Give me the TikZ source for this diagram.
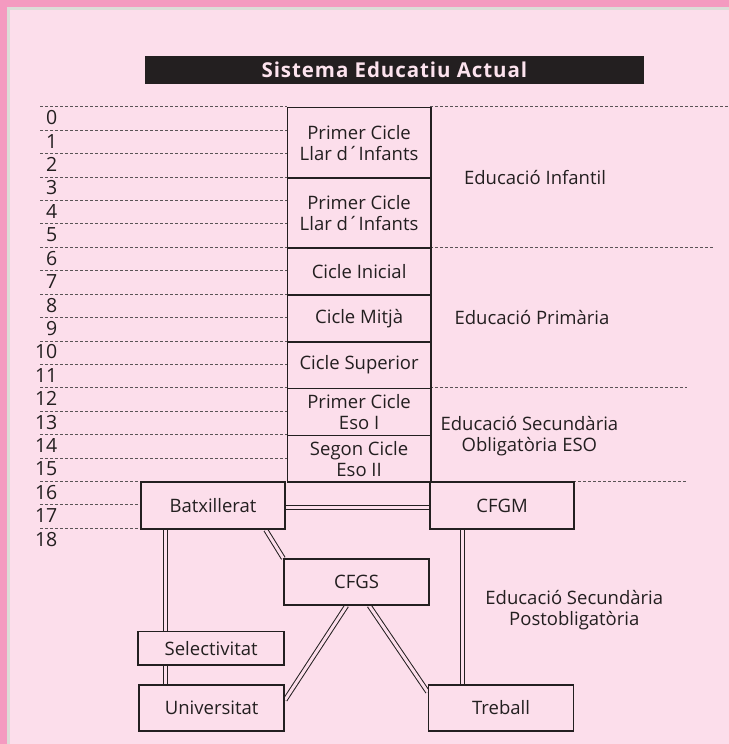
\documentclass[tikz,border=0pt]{standalone}
\usepackage{fontspec}
\setmainfont{Open Sans}
\newfontfamily\titlefont[LetterSpace=4.5]{Open Sans}
\definecolor{outerpink}{HTML}{F49AC0}
\definecolor{edgegray}{HTML}{DCDCD8}
\definecolor{bgpink}{HTML}{FCDEEB}
\definecolor{ink}{HTML}{231F20}
\definecolor{titletxt}{HTML}{FCE3EE}
\definecolor{dashgray}{HTML}{5A5456}
\pgfdeclarelayer{back}
\pgfdeclarelayer{conn}
\pgfsetlayers{back,conn,main}
\tikzset{
  box/.style={draw=ink, line width=1.7bp, fill=bgpink, inner sep=0pt, anchor=north west, align=center},
  dbl/.style={draw=ink, line width=1bp, double=bgpink, double distance=3bp},
  guide/.style={draw=dashgray, line width=0.8bp, dash pattern=on 3bp off 2bp},
  lbl/.style={align=center, inner sep=0pt}
}
\begin{document}
\begin{tikzpicture}[x=1bp, y=-1bp, font=\fontsize{18.5bp}{21bp}\selectfont, text=ink]
\useasboundingbox (0,0) rectangle (729,744);
\begin{pgfonlayer}{back}
  \fill[outerpink] (0,0) rectangle (729,744);
  \fill[edgegray] (7.3,7.3) rectangle (729,744);
  \fill[bgpink] (10,10) rectangle (729,744);
\end{pgfonlayer}

% title
\node[fill=ink, minimum width=498.3bp, minimum height=27.5bp, anchor=north west, inner sep=0pt, text=titletxt,
  font=\fontsize{20.5bp}{22bp}\titlefont\bfseries] (title) at (145,56) {Sistema Educatiu Actual};

% age guide lines
\foreach \k in {0,...,15} {
  \draw[guide] (40,{106.7+23.42*\k}) -- (286.5,{106.7+23.42*\k});
}
\foreach \k in {16,17,18} {
  \draw[guide] (40,{106.7+23.42*\k}) -- (140,{106.7+23.42*\k});
}
\draw[guide] (430,106.7) -- (729,106.7);
\draw[guide] (430,247.22) -- (713,247.22);
\draw[guide] (430,387.74) -- (686.7,387.74);
\draw[guide] (573.3,481.42) -- (686.7,481.42);

% age labels
\foreach \k in {0,...,18} {
  \node[anchor=east, inner sep=0pt, font=\fontsize{19.5bp}{21bp}\selectfont] (age\k) at (57.5,{106.7+23.42*\k+11}) {\k};
}

% stage boxes
\node[box, minimum width=143.5bp, minimum height=70.26bp] (llar1) at (286.5,106.7) {Primer Cicle\\Llar d´Infants};
\node[box, minimum width=143.5bp, minimum height=70.26bp] (llar2) at (286.5,176.96) {Primer Cicle\\Llar d´Infants};
\node[box, minimum width=143.5bp, minimum height=46.84bp] (inicial) at (286.5,247.22) {Cicle Inicial};
\node[box, minimum width=143.5bp, minimum height=46.84bp] (mitja) at (286.5,294.06) {Cicle Mitjà};
\node[box, minimum width=143.5bp, minimum height=46.84bp] (superior) at (286.5,340.9) {Cicle Superior};
\node[box, minimum width=143.5bp, minimum height=46.84bp] (eso1) at (286.5,387.74) {Primer Cicle\\Eso I};
\node[box, minimum width=143.5bp, minimum height=46.84bp] (eso2) at (286.5,434.58) {Segon Cicle\\Eso II};

\node[box, minimum width=144.3bp, minimum height=46.84bp] (bat) at (140,481.42) {Batxillerat};
\node[box, minimum width=144bp, minimum height=46.84bp] (cfgm) at (429.3,481.42) {CFGM};
\node[box, minimum width=145bp, minimum height=45.7bp] (cfgs) at (283.3,558.3) {CFGS};
\node[box, minimum width=146bp, minimum height=33.3bp] (sel) at (137.3,630.7) {Selectivitat};
\node[box, minimum width=145bp, minimum height=46bp] (uni) at (138.3,684) {Universitat};
\node[box, minimum width=145bp, minimum height=46bp] (tre) at (427.7,684) {Treball};

% stage labels
\node[lbl, anchor=base] (infantil) at (535,184) {Educació Infantil};
\node[lbl, anchor=base] (primaria) at (532,324.5) {Educació Primària};
\node[lbl] (eso) at (529.4,436.4) {Educació Secundària\\Obligatòria ESO};
\node[lbl] (post) at (574.3,610.4) {Educació Secundària\\Postobligatòria};

% connectors
\coordinate (cv1) at (165.5,0);
\coordinate (cv2) at (462.5,0);
\coordinate (ch1) at (0,507.5);
\coordinate (cd1) at (265.8,0);
\coordinate (cd2) at (346.6,0);
\coordinate (cd3) at (0,700);
\coordinate (cd4) at (369.2,0);
\coordinate (cd5) at (0,692);
\begin{pgfonlayer}{conn}
  \draw[dbl] (bat.south -| cv1) -- (sel.north -| cv1);
  \draw[dbl] (sel.south -| cv1) -- (uni.north -| cv1);
  \draw[dbl] (cfgm.south -| cv2) -- (tre.north -| cv2);
  \draw[dbl] (bat.east |- ch1) -- (cfgm.west |- ch1);
  \draw[dbl] (bat.south -| cd1) -- (cfgs.north west);
  \draw[dbl] (cfgs.south -| cd2) -- (uni.east |- cd3);
  \draw[dbl] (cfgs.south -| cd4) -- (tre.west |- cd5);
\end{pgfonlayer}
\end{tikzpicture}
\end{document}
